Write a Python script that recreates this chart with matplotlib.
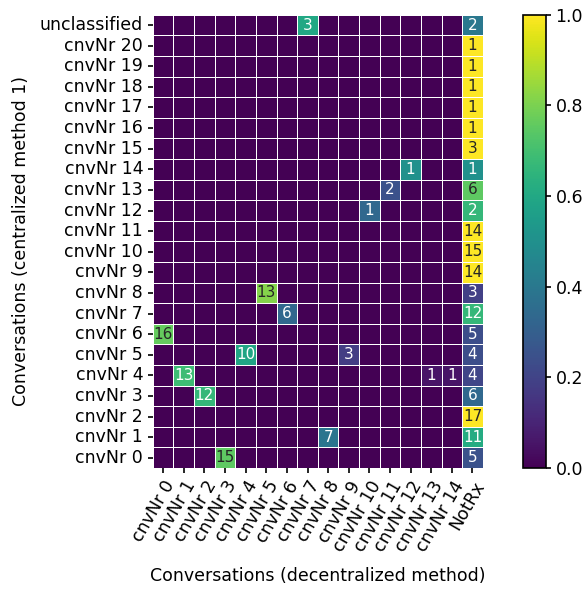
import numpy as np
import matplotlib
matplotlib.use("Agg")
from matplotlib import pyplot as plt
import seaborn as sns

row_labels = ["unclassified", "cnvNr 20", "cnvNr 19", "cnvNr 18", "cnvNr 17", "cnvNr 16",
              "cnvNr 15", "cnvNr 14", "cnvNr 13", "cnvNr 12", "cnvNr 11", "cnvNr 10",
              "cnvNr 9", "cnvNr 8", "cnvNr 7", "cnvNr 6", "cnvNr 5", "cnvNr 4",
              "cnvNr 3", "cnvNr 2", "cnvNr 1", "cnvNr 0"]
col_labels = ["cnvNr %d" % i for i in range(15)] + ["NotRx"]

# matched decentralized conversation per centralized row: {column index: count}
matches = [
    {7: 3, 15: 2},
    {15: 1},
    {15: 1},
    {15: 1},
    {15: 1},
    {15: 1},
    {15: 3},
    {12: 1, 15: 1},
    {11: 2, 15: 6},
    {10: 1, 15: 2},
    {15: 14},
    {15: 15},
    {15: 14},
    {5: 13, 15: 3},
    {6: 6, 15: 12},
    {0: 16, 15: 5},
    {4: 10, 9: 3, 15: 4},
    {1: 13, 13: 1, 14: 1, 15: 4},
    {2: 12, 15: 6},
    {15: 17},
    {8: 7, 15: 11},
    {3: 15, 15: 5},
]

counts = np.zeros((len(row_labels), len(col_labels)), dtype=int)
for r, m in enumerate(matches):
    for c, v in m.items():
        counts[r, c] = v

ratios = counts / counts.sum(axis=1, keepdims=True)
annot = np.where(counts > 0, counts.astype(str), "")

plt.rcParams["font.size"] = 12.5
plt.rcParams["xtick.major.width"] = 1.2
plt.rcParams["ytick.major.width"] = 1.2

fig = plt.figure(figsize=(5.88, 5.91), dpi=100)
ax = fig.add_axes([0.260, 0.208, 0.561, 0.767])
cax = fig.add_axes([0.889, 0.208, 0.039, 0.767])

sns.heatmap(ratios, ax=ax, cbar_ax=cax, cmap="viridis", vmin=0, vmax=1,
            annot=annot, fmt="", annot_kws={"size": 11},
            linewidths=0.7, linecolor="white",
            xticklabels=col_labels, yticklabels=row_labels)

cbar = ax.collections[0].colorbar
cbar.outline.set_visible(True)
cbar.outline.set_linewidth(1.2)

ax.set_xticklabels(col_labels, rotation=60, ha="right", rotation_mode="anchor")
ax.set_yticklabels(row_labels, rotation=0)
ax.set_xlabel("Conversations (decentralized method)", labelpad=9)
ax.set_ylabel("Conversations (centralized method 1)", labelpad=7)

plt.savefig("out.png")
